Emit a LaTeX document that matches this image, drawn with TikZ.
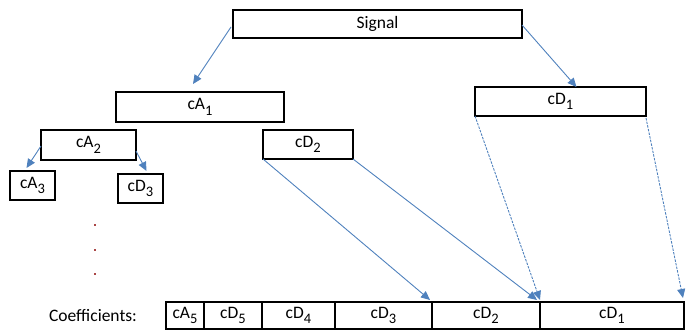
\documentclass[tikz,border=0pt]{standalone}
\usepackage{fontspec}
\setmainfont{Carlito}
\usetikzlibrary{arrows.meta,calc}
\definecolor{arrblue}{RGB}{79,129,189}
\definecolor{dotred}{RGB}{170,70,70}
\newcommand\lowsub[1]{\raisebox{-5.5pt}{\fontsize{14.5}{14.5}\selectfont #1}}
\tikzset{
  box/.style={draw=black,line width=1.3pt,rectangle,inner sep=0pt,outer sep=0pt,font=\fontsize{17.5}{19}\selectfont},
  cell/.style={box,minimum height=27pt,anchor=south west},
  conn/.style={draw=arrblue,line width=0.9pt,-{Triangle[width=8pt,length=9pt]}},
  dconn/.style={conn,dash pattern=on 2.5pt off 1.2pt},
}
\begin{document}
\begin{tikzpicture}[x=1pt,y=-1pt]
\useasboundingbox (0,0) rectangle (691,334);
% tree boxes
\node[box,minimum width=289pt,minimum height=28pt] (sig) at (377.5,24) {Signal};
\node[box,minimum width=168pt,minimum height=30pt] (ca1) at (200,107) {cA\lowsub{1}};
\node[box,minimum width=171pt,minimum height=29pt] (cd1) at (560.5,101.5) {cD\lowsub{1}};
\node[box,minimum width=95pt,minimum height=30pt] (ca2) at (88.5,145) {cA\lowsub{2}};
\node[box,minimum width=90pt,minimum height=29pt] (cd2) at (308,144.5) {cD\lowsub{2}};
\node[box,minimum width=45pt,minimum height=29pt] (ca3) at (32.5,185.5) {cA\lowsub{3}};
\node[box,minimum width=45pt,minimum height=29pt] (cd3) at (140.5,188.5) {cD\lowsub{3}};
% dots
\foreach \yy/\nm in {225/da,250/db,274/dc}
  \node[fill=dotred,minimum size=2pt,inner sep=0pt] (\nm) at (95,\yy) {};
% coefficients row
\node[font=\fontsize{17.5}{19}\selectfont] (lab) at (93,316) {Coefficients:};
\node[cell,minimum width=38pt] (r1) at (166,329) {cA\lowsub{5}};
\node[cell,minimum width=58pt] (r2) at (204,329) {cD\lowsub{5}};
\node[cell,minimum width=73pt] (r3) at (262,329) {cD\lowsub{4}};
\node[cell,minimum width=97pt] (r4) at (335,329) {cD\lowsub{3}};
\node[cell,minimum width=108pt] (r5) at (432,329) {cD\lowsub{2}};
\node[cell,minimum width=144pt] (r6) at (540,329) {cD\lowsub{1}};
% connectors
\draw[conn] ([xshift=-2pt,yshift=-3pt]sig.west) -- ([xshift=-7pt,yshift=8pt]ca1.north);
\draw[conn] ([yshift=-1pt]sig.east) -- ([xshift=16pt]cd1.north);
\draw[conn] ([yshift=-1pt]ca2.west) -- ([xshift=-6pt,yshift=3pt]ca3.north);
\draw[conn] ([yshift=-6pt]ca2.east) -- ([xshift=6pt,yshift=3pt]cd3.north);
\draw[conn] (cd2.south west) -- ([xshift=-2pt,yshift=2pt]r4.north east);
\draw[conn] (cd2.south east) -- ([xshift=-3pt,yshift=2pt]r5.north east);
\draw[dconn] (cd1.south west) -- ([yshift=2pt]r5.north east);
\draw[dconn] ([yshift=-2pt]cd1.south east) -- ([xshift=-1pt,yshift=4pt]r6.north east);
\end{tikzpicture}
\end{document}
